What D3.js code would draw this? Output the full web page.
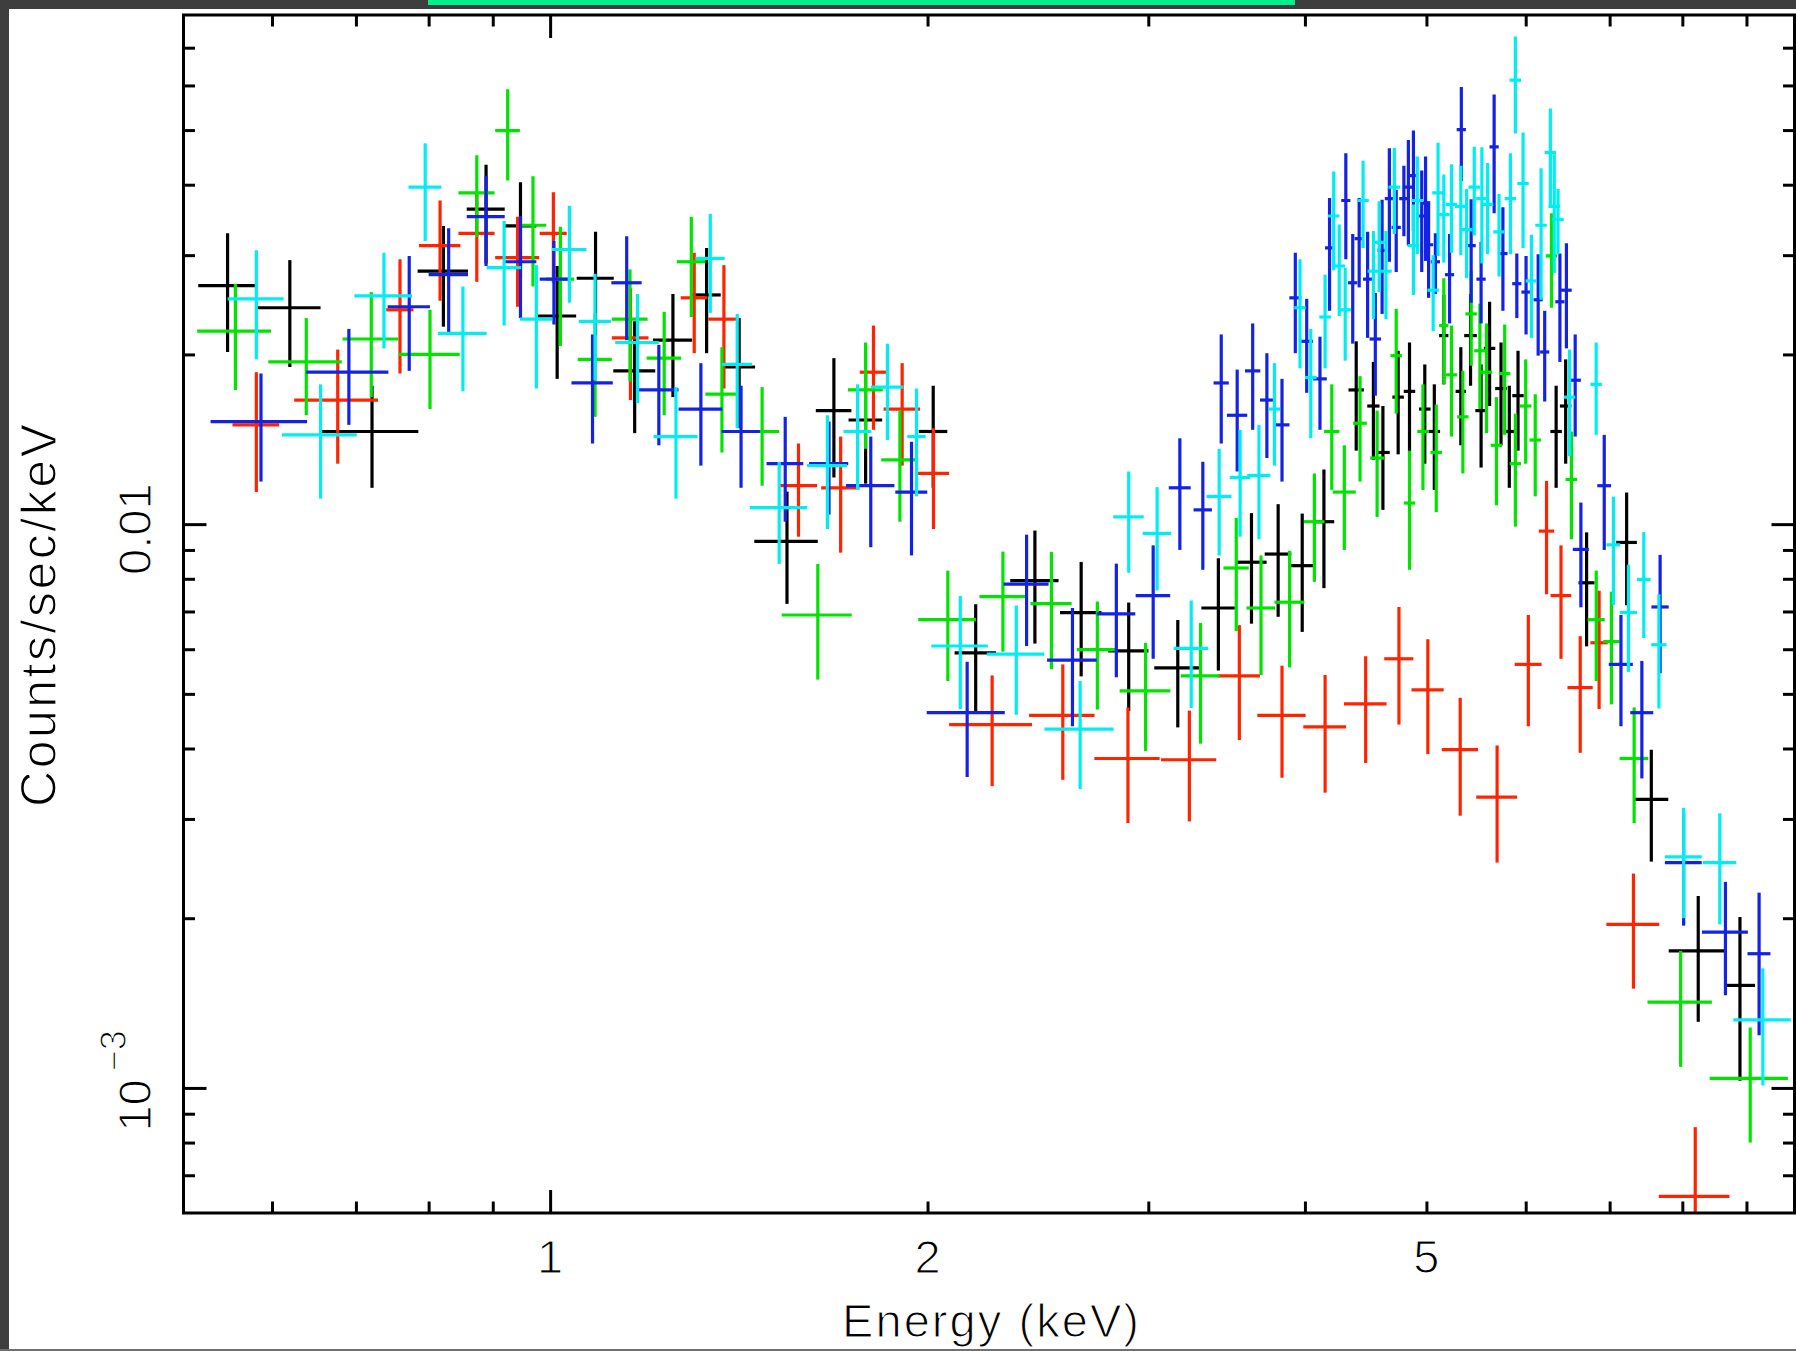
<!DOCTYPE html>
<html>
<head>
<meta charset="utf-8">
<script src="https://cdn.jsdelivr.net/npm/d3@7"></script>
<style>
html, body { margin: 0; padding: 0; background: #fff; }
svg { display: block; }
</style>
</head>
<body>
<div id="T"></div>
<script>
// each row: [energy (keV), half bin width (keV), counts/sec/keV, 1-sigma error]
const black = [
  [0.553, 0.029, 0.0265, 0.0063], [0.620, 0.036, 0.0242, 0.0052], [0.721, 0.064, 0.0146, 0.0030],
  [0.822, 0.038, 0.0281, 0.0057], [0.889, 0.031, 0.0362, 0.0072], [0.947, 0.028, 0.0338, 0.0066],
  [1.013, 0.036, 0.0234, 0.0053], [1.087, 0.037, 0.0273, 0.0057], [1.168, 0.045, 0.0187, 0.0042],
  [1.253, 0.045, 0.0212, 0.0044], [1.333, 0.035, 0.0255, 0.0054], [1.415, 0.042, 0.0190, 0.0042],
  [1.545, 0.090, 0.00932, 0.0021], [1.684, 0.055, 0.0159, 0.0038], [1.785, 0.055, 0.0153, 0.0035],
  [2.021, 0.053, 0.0146, 0.0030], [2.185, 0.083, 0.00591, 0.0013], [2.436, 0.108, 0.00794, 0.0018],
  [2.652, 0.101, 0.00697, 0.0016], [2.894, 0.107, 0.00596, 0.0013], [3.167, 0.134, 0.00556, 0.0012],
  [3.412, 0.105, 0.00710, 0.0016], [3.626, 0.102, 0.00856, 0.0019], [3.808, 0.093, 0.00885, 0.0020],
  [3.980, 0.084, 0.00844, 0.0020], [4.142, 0.079, 0.0101, 0.0024], [4.395, 0.062, 0.0173, 0.0038],
  [4.536, 0.051, 0.0162, 0.0032], [4.616, 0.058, 0.0134, 0.0028], [4.747, 0.050, 0.0168, 0.0035],
  [4.847, 0.051, 0.0172, 0.0038], [4.985, 0.053, 0.0160, 0.0032], [5.073, 0.054, 0.0146, 0.0031],
  [5.162, 0.044, 0.0216, 0.0039], [5.326, 0.051, 0.0172, 0.0034], [5.422, 0.063, 0.0216, 0.0040],
  [5.528, 0.058, 0.0159, 0.0033], [5.615, 0.059, 0.0205, 0.0043], [5.734, 0.061, 0.0174, 0.0036],
  [5.822, 0.061, 0.0146, 0.0030], [5.916, 0.062, 0.0169, 0.0034], [6.345, 0.067, 0.0146, 0.0030],
  [6.457, 0.068, 0.0162, 0.0034], [6.710, 0.099, 0.00787, 0.0018], [7.222, 0.137, 0.00928, 0.0021],
  [7.557, 0.239, 0.00325, 0.00073], [8.237, 0.435, 0.00175, 0.00044], [8.893, 0.250, 0.00152, 0.00049]
];
const red = [
  [0.583, 0.025, 0.0150, 0.0036], [0.677, 0.052, 0.0166, 0.0038], [0.759, 0.019, 0.0240, 0.0055],
  [0.817, 0.031, 0.0312, 0.0063], [0.874, 0.029, 0.0328, 0.0059], [0.942, 0.038, 0.0297, 0.0054],
  [1.006, 0.025, 0.0328, 0.0060], [1.159, 0.039, 0.0214, 0.0048], [1.303, 0.032, 0.0252, 0.0051],
  [1.376, 0.039, 0.0231, 0.0057], [1.578, 0.055, 0.0117, 0.0022], [1.705, 0.060, 0.0116, 0.0027],
  [1.811, 0.045, 0.0186, 0.0039], [1.909, 0.064, 0.0160, 0.0033], [2.022, 0.059, 0.0123, 0.0025],
  [2.252, 0.171, 0.00441, 0.00098], [2.564, 0.154, 0.00458, 0.00106], [2.890, 0.173, 0.00384, 0.00089],
  [3.235, 0.164, 0.00382, 0.00085], [3.546, 0.137, 0.00538, 0.00124], [3.835, 0.170, 0.00458, 0.00103],
  [4.151, 0.163, 0.00437, 0.00103], [4.472, 0.175, 0.00480, 0.00103], [4.754, 0.127, 0.00577, 0.00136],
  [5.013, 0.148, 0.00508, 0.00117], [5.320, 0.177, 0.00398, 0.00094], [5.693, 0.214, 0.00328, 0.00077],
  [6.029, 0.149, 0.00564, 0.00126], [6.234, 0.088, 0.00972, 0.00221], [6.402, 0.122, 0.00747, 0.0017],
  [6.632, 0.154, 0.00513, 0.0012], [6.866, 0.109, 0.00616, 0.00146], [7.313, 0.355, 0.00195, 0.00045],
  [8.192, 0.531, 0.000642, 0.00021]
];
const green = [
  [0.561, 0.038, 0.0220, 0.0047], [0.639, 0.043, 0.0194, 0.0038], [0.720, 0.037, 0.0213, 0.0045],
  [0.802, 0.045, 0.0200, 0.0040], [0.874, 0.029, 0.0387, 0.0064], [0.925, 0.021, 0.0499, 0.0092],
  [0.969, 0.024, 0.0339, 0.0075], [1.019, 0.026, 0.0272, 0.0065], [1.086, 0.034, 0.0196, 0.0041],
  [1.158, 0.038, 0.0231, 0.0052], [1.233, 0.039, 0.0197, 0.0041], [1.296, 0.034, 0.0292, 0.0059],
  [1.371, 0.041, 0.0170, 0.0036], [1.476, 0.047, 0.0146, 0.0029], [1.635, 0.105, 0.00690, 0.0016],
  [1.785, 0.057, 0.0173, 0.0037], [1.901, 0.064, 0.0130, 0.0029], [2.076, 0.110, 0.00677, 0.0015],
  [2.297, 0.097, 0.00744, 0.0015], [2.511, 0.095, 0.00723, 0.0017], [2.732, 0.101, 0.00599, 0.0013],
  [2.985, 0.139, 0.00506, 0.0011], [3.302, 0.118, 0.00538, 0.0013], [3.526, 0.082, 0.00836, 0.0019],
  [3.690, 0.097, 0.00710, 0.0017], [3.889, 0.107, 0.00727, 0.0017], [4.070, 0.077, 0.0101, 0.0022],
  [4.202, 0.059, 0.0146, 0.0031], [4.300, 0.091, 0.0114, 0.0024], [4.426, 0.056, 0.0151, 0.0032],
  [4.567, 0.058, 0.0131, 0.0028], [4.730, 0.050, 0.0199, 0.0042], [4.847, 0.051, 0.0109, 0.0026],
  [4.968, 0.052, 0.0146, 0.0031], [5.091, 0.054, 0.0134, 0.0029], [5.162, 0.044, 0.0225, 0.0048],
  [5.235, 0.055, 0.0184, 0.0041], [5.346, 0.056, 0.0155, 0.0032], [5.428, 0.057, 0.0236, 0.0045],
  [5.516, 0.058, 0.0203, 0.0043], [5.583, 0.059, 0.0186, 0.0041], [5.686, 0.060, 0.0138, 0.0030],
  [5.773, 0.061, 0.0185, 0.0041], [5.887, 0.062, 0.0128, 0.0029], [6.000, 0.063, 0.0162, 0.0034],
  [6.106, 0.064, 0.0141, 0.0029], [6.291, 0.066, 0.0299, 0.0057], [6.525, 0.069, 0.0120, 0.0026],
  [6.830, 0.108, 0.00677, 0.0015], [7.023, 0.104, 0.00619, 0.0014], [7.322, 0.193, 0.00384, 0.00089],
  [7.975, 0.471, 0.00142, 0.00033], [9.062, 0.650, 0.00104, 0.00024]
];
const blue = [
  [0.588, 0.052, 0.0152, 0.0033], [0.691, 0.052, 0.0186, 0.0036], [0.772, 0.030, 0.0243, 0.0056],
  [0.830, 0.030, 0.0277, 0.0058], [0.889, 0.031, 0.0351, 0.0064], [0.947, 0.028, 0.0292, 0.0060],
  [1.007, 0.026, 0.0272, 0.0046], [1.081, 0.041, 0.0178, 0.0039], [1.151, 0.032, 0.0268, 0.0056],
  [1.221, 0.045, 0.0173, 0.0035], [1.319, 0.053, 0.0160, 0.0033], [1.420, 0.050, 0.0146, 0.0030],
  [1.540, 0.052, 0.0128, 0.0027], [1.669, 0.060, 0.0128, 0.0024], [1.802, 0.080, 0.0117, 0.0026],
  [1.942, 0.057, 0.0114, 0.0026], [2.151, 0.154, 0.00463, 0.00107], [2.399, 0.099, 0.00783, 0.00175],
  [2.610, 0.119, 0.00574, 0.00136], [2.829, 0.100, 0.00693, 0.00158], [3.027, 0.096, 0.00747, 0.0017],
  [3.179, 0.064, 0.0116, 0.0026], [3.316, 0.056, 0.0106, 0.0023], [3.430, 0.048, 0.0178, 0.0039],
  [3.532, 0.066, 0.0156, 0.0032], [3.634, 0.051, 0.0187, 0.0040], [3.730, 0.047, 0.0166, 0.0035],
  [3.835, 0.053, 0.0150, 0.0031], [3.930, 0.043, 0.0252, 0.0051], [4.013, 0.047, 0.0211, 0.0040],
  [4.112, 0.052, 0.0181, 0.0034], [4.185, 0.035, 0.0309, 0.0070], [4.312, 0.036, 0.0375, 0.0080],
  [4.367, 0.037, 0.0268, 0.0059], [4.419, 0.037, 0.0321, 0.0058], [4.488, 0.038, 0.0272, 0.0058],
  [4.552, 0.048, 0.0213, 0.0044], [4.609, 0.039, 0.0306, 0.0070], [4.671, 0.039, 0.0378, 0.0086],
  [4.730, 0.040, 0.0336, 0.0056], [4.797, 0.041, 0.0378, 0.0054], [4.837, 0.041, 0.0396, 0.0084],
  [4.882, 0.041, 0.0415, 0.0084], [4.957, 0.042, 0.0352, 0.0072], [4.992, 0.042, 0.0371, 0.0078],
  [5.020, 0.042, 0.0313, 0.0061], [5.083, 0.043, 0.0292, 0.0036], [5.217, 0.044, 0.0277, 0.0050],
  [5.331, 0.045, 0.0501, 0.0095], [5.428, 0.046, 0.0312, 0.0065], [5.528, 0.047, 0.0272, 0.0045],
  [5.662, 0.048, 0.0467, 0.0111], [5.754, 0.049, 0.0302, 0.0063], [5.903, 0.050, 0.0267, 0.0035],
  [6.004, 0.051, 0.0258, 0.0041], [6.139, 0.052, 0.0250, 0.0051], [6.213, 0.052, 0.0202, 0.0037],
  [6.389, 0.054, 0.0248, 0.0054], [6.466, 0.063, 0.0260, 0.0055], [6.571, 0.069, 0.0180, 0.0037],
  [6.640, 0.098, 0.00902, 0.0019], [6.931, 0.088, 0.0117, 0.0027], [7.147, 0.158, 0.00564, 0.00126],
  [7.427, 0.157, 0.00463, 0.00109], [7.680, 0.122, 0.00713, 0.00169], [8.019, 0.271, 0.00251, 0.00057],
  [8.659, 0.365, 0.00189, 0.00043], [9.211, 0.194, 0.00173, 0.00049]
];
const cyan = [
  [0.583, 0.030, 0.0251, 0.0055], [0.656, 0.045, 0.0144, 0.0033], [0.737, 0.039, 0.0254, 0.0049],
  [0.795, 0.024, 0.0396, 0.0078], [0.852, 0.038, 0.0218, 0.0046], [0.919, 0.029, 0.0285, 0.0060],
  [0.975, 0.029, 0.0231, 0.0057], [1.036, 0.033, 0.0307, 0.0060], [1.086, 0.032, 0.0229, 0.0049],
  [1.174, 0.047, 0.0210, 0.0046], [1.260, 0.051, 0.0143, 0.0032], [1.342, 0.036, 0.0296, 0.0059],
  [1.410, 0.039, 0.0192, 0.0044], [1.523, 0.080, 0.0107, 0.0022], [1.664, 0.061, 0.0127, 0.0029],
  [1.759, 0.045, 0.0146, 0.0031], [1.858, 0.055, 0.0175, 0.0034], [1.960, 0.033, 0.0143, 0.0031],
  [2.124, 0.110, 0.00608, 0.00138], [2.354, 0.124, 0.00588, 0.00129], [2.647, 0.168, 0.00433, 0.00094],
  [2.894, 0.081, 0.0103, 0.0021], [3.049, 0.080, 0.00963, 0.0020], [3.246, 0.103, 0.00602, 0.0013],
  [3.417, 0.078, 0.0112, 0.0024], [3.551, 0.067, 0.0121, 0.0026], [3.676, 0.078, 0.0122, 0.0028],
  [3.782, 0.040, 0.0160, 0.0033], [3.964, 0.042, 0.0242, 0.0053], [4.043, 0.043, 0.0182, 0.0040],
  [4.151, 0.044, 0.0233, 0.0044], [4.217, 0.045, 0.0352, 0.0070], [4.260, 0.045, 0.0287, 0.0053],
  [4.307, 0.045, 0.0240, 0.0045], [4.451, 0.047, 0.0375, 0.0066], [4.536, 0.048, 0.0281, 0.0050],
  [4.584, 0.048, 0.0316, 0.0058], [4.642, 0.049, 0.0281, 0.0050], [4.714, 0.050, 0.0396, 0.0069],
  [4.882, 0.052, 0.0312, 0.0057], [4.917, 0.052, 0.0375, 0.0074], [5.062, 0.053, 0.0260, 0.0040],
  [5.108, 0.054, 0.0387, 0.0088], [5.162, 0.055, 0.0354, 0.0063], [5.235, 0.055, 0.0369, 0.0066],
  [5.326, 0.056, 0.0366, 0.0066], [5.383, 0.057, 0.0333, 0.0060], [5.459, 0.058, 0.0396, 0.0071],
  [5.536, 0.058, 0.0378, 0.0088], [5.595, 0.059, 0.0369, 0.0068], [5.713, 0.060, 0.0330, 0.0055],
  [5.834, 0.062, 0.0378, 0.0077], [5.887, 0.062, 0.0613, 0.0120], [5.971, 0.063, 0.0402, 0.0093],
  [6.063, 0.064, 0.0270, 0.0056], [6.172, 0.065, 0.0339, 0.0089], [6.278, 0.066, 0.0456, 0.0090],
  [6.323, 0.067, 0.0366, 0.0087], [6.367, 0.067, 0.0347, 0.0046], [6.503, 0.069, 0.0168, 0.0036],
  [6.829, 0.072, 0.0177, 0.0033], [7.049, 0.089, 0.00919, 0.0020], [7.246, 0.115, 0.00697, 0.0015],
  [7.453, 0.094, 0.00798, 0.0017], [7.663, 0.107, 0.00611, 0.0014], [8.019, 0.271, 0.00257, 0.00057],
  [8.570, 0.264, 0.00251, 0.00056], [9.275, 0.489, 0.00132, 0.00031]
];

const seriesColors = ['#000000', '#ff2400', '#00e400', '#1422e6', '#00eef2'];
const xMinorTicks = [0.6, 0.7, 0.8, 0.9, 2, 3, 4, 5, 6, 7, 8, 9];
const xMajorTicks = [1];
const yMinorTicks = [7e-4, 8e-4, 9e-4, 0.002, 0.003, 0.004, 0.005, 0.006, 0.007, 0.008, 0.009,
                     0.02, 0.03, 0.04, 0.05, 0.06, 0.07];
const yMajorTicks = [0.001, 0.01];
const xTickLabels = [1, 2, 5];
const yTickLabels = [0.01, 0.001];

const W = 1796, H = 1351;
const box = { left: 183.5, right: 1794.5, top: 15, bottom: 1213 };
const FONT = '"Liberation Sans", Arial, sans-serif';

const x = d3.scaleLog().domain([0.51, 9.83]).range([box.left, box.right]);
const y = d3.scaleLog().domain([6e-4, 0.08]).range([box.bottom, box.top]);

const svg = d3.select('#T').append('svg').attr('width', W).attr('height', H);
svg.append('rect').attr('width', W).attr('height', H).attr('fill', '#fff');

// dark window edge round the plot, with the green strip on top
svg.append('rect').attr('x', 0).attr('y', 0).attr('width', W).attr('height', 9).attr('fill', '#3e3e3e');
svg.append('rect').attr('x', 0).attr('y', 0).attr('width', 9).attr('height', H).attr('fill', '#3e3e3e');
svg.append('rect').attr('x', 428).attr('y', 0).attr('width', 867).attr('height', 5).attr('fill', '#00f08c');
svg.append('rect').attr('x', 0).attr('y', H - 2).attr('width', W).attr('height', 2).attr('fill', '#707070');

svg.append('clipPath').attr('id', 'clip').append('rect')
  .attr('x', box.left).attr('y', box.top)
  .attr('width', box.right - box.left).attr('height', box.bottom - box.top);

// error crosses, one group per data set
const plot = svg.append('g').attr('clip-path', 'url(#clip)');
[black, red, green, blue, cyan].forEach((rows, i) => {
  const g = plot.append('g').attr('stroke', seriesColors[i]).attr('stroke-width', 3.2);
  g.selectAll('line.v').data(rows).join('line').attr('class', 'v')
    .attr('x1', d => x(d[0])).attr('x2', d => x(d[0]))
    .attr('y1', d => y(d[2] + d[3]))
    .attr('y2', d => y(Math.max(d[2] - d[3], 1e-5)));
  g.selectAll('line.h').data(rows).join('line').attr('class', 'h')
    .attr('x1', d => x(d[0] - d[1])).attr('x2', d => x(d[0] + d[1]))
    .attr('y1', d => y(d[2])).attr('y2', d => y(d[2]));
});

// frame and inward ticks on all four sides
svg.append('rect')
  .attr('x', box.left).attr('y', box.top)
  .attr('width', box.right - box.left).attr('height', box.bottom - box.top)
  .attr('fill', 'none').attr('stroke', '#000').attr('stroke-width', 3);

function ticks(axis, tr, vals, len) {
  const g = svg.append('g').attr('transform', tr)
    .call(axis.tickValues(vals).tickSize(-len).tickFormat(''));
  g.select('.domain').remove();
  g.selectAll('.tick line').attr('stroke', '#000').attr('stroke-width', 3);
}
ticks(d3.axisBottom(x), `translate(0,${box.bottom})`, xMinorTicks, 11.5);
ticks(d3.axisBottom(x), `translate(0,${box.bottom})`, xMajorTicks, 23);
ticks(d3.axisTop(x), `translate(0,${box.top})`, xMinorTicks, 11.5);
ticks(d3.axisTop(x), `translate(0,${box.top})`, xMajorTicks, 23);
ticks(d3.axisLeft(y), `translate(${box.left},0)`, yMinorTicks, 11.5);
ticks(d3.axisLeft(y), `translate(${box.left},0)`, yMajorTicks, 23);
ticks(d3.axisRight(y), `translate(${box.right},0)`, yMinorTicks, 11.5);
ticks(d3.axisRight(y), `translate(${box.right},0)`, yMajorTicks, 23);

// labels
const txt = svg.append('g').attr('font-family', FONT).attr('fill', '#000')
  .attr('stroke', '#fff').attr('stroke-width', 1.2);

txt.selectAll('text.xl').data(xTickLabels).join('text').attr('class', 'xl')
  .attr('x', d => x(d)).attr('y', 1273).attr('text-anchor', 'middle')
  .attr('font-size', 47).text(d => d);

yTickLabels.forEach(v => {
  const exp = Math.round(Math.log10(v));
  const cy = y(v) + (exp === -2 ? 5 : -7);
  const t = txt.append('text')
    .attr('transform', `translate(151,${cy}) rotate(-90)`)
    .attr('text-anchor', 'middle').attr('font-size', 47);
  if (exp === -2) {
    t.text('0.01');
  } else {
    t.append('tspan').text('10');
    t.append('tspan').attr('dx', 8).attr('dy', -25).attr('font-size', 36).text('\u2212' + (-exp));
  }
});

txt.append('text')
  .attr('x', 990.5).attr('y', 1337).attr('text-anchor', 'middle')
  .attr('font-size', 47).attr('textLength', 297).attr('lengthAdjust', 'spacing')
  .text('Energy (keV)');

txt.append('text')
  .attr('transform', 'translate(55.5,615.5) rotate(-90)')
  .attr('text-anchor', 'middle').attr('font-size', 50)
  .attr('textLength', 383).attr('lengthAdjust', 'spacing')
  .text('Counts/sec/keV');
</script>
</body>
</html>
